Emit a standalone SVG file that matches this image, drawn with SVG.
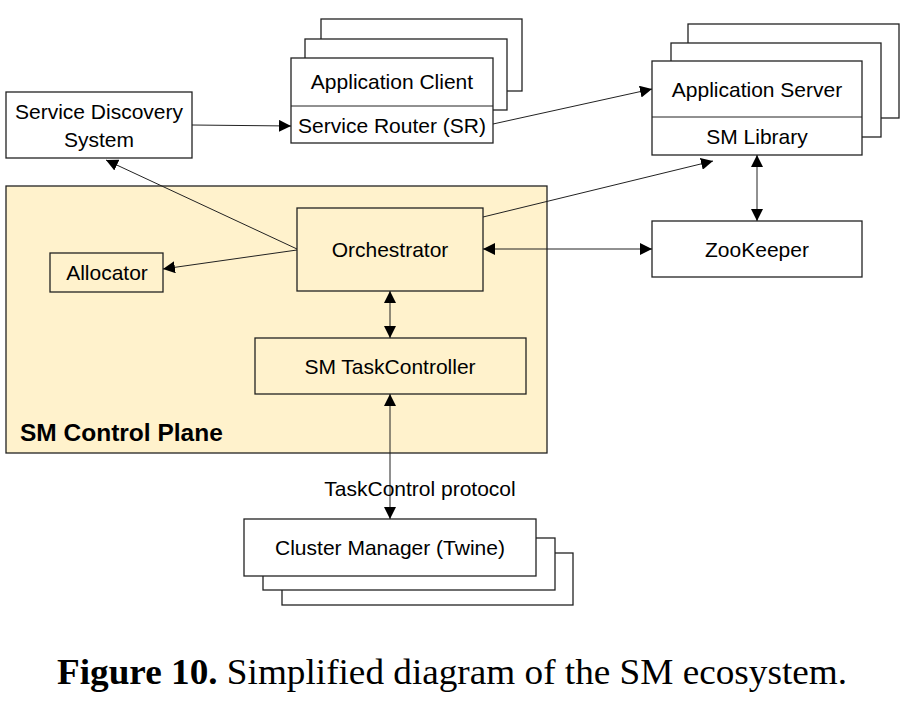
<svg xmlns="http://www.w3.org/2000/svg" width="904" height="707" viewBox="0 0 904 707">
<defs>
<marker id="ah" viewBox="0 0 12 12" refX="12" refY="6" markerWidth="12" markerHeight="12" markerUnits="userSpaceOnUse" orient="auto-start-reverse">
<path d="M0,0 L12,6 L0,12 Z" fill="#000"/>
</marker>
</defs>
<style>
.box{fill:#fff;stroke:#222;stroke-width:1.3}
.ybox{fill:#FFF2CC;stroke:#222;stroke-width:1.3}
.t{font-family:"Liberation Sans",Arial,sans-serif;font-size:21px;fill:#000;text-anchor:middle}
.c{stroke:#222;stroke-width:1;fill:none}
</style>
<rect width="904" height="707" fill="#fff"/>

<g id="control-plane">
<rect class="ybox" x="6" y="186" width="541" height="267"/>
<text x="20" y="441" font-family="'Liberation Sans',Arial,sans-serif" font-weight="bold" font-size="24.5" fill="#000">SM Control Plane</text>
</g>

<g id="application-client">
<rect class="box" x="321" y="19" width="201" height="72"/>
<rect class="box" x="305" y="39" width="202" height="71"/>
<rect class="box" x="291" y="58" width="202" height="85"/>
<line class="c" x1="291" y1="106" x2="493" y2="106" stroke-width="1.3"/>
<text class="t" x="392" y="89">Application Client</text>
<text class="t" x="392" y="133">Service Router (SR)</text>
</g>

<g id="application-server">
<rect class="box" x="688" y="24" width="211" height="94"/>
<rect class="box" x="671" y="43" width="210" height="94"/>
<rect class="box" x="652" y="61" width="210" height="94"/>
<line class="c" x1="652" y1="117" x2="862" y2="117" stroke-width="1.3"/>
<text class="t" x="757" y="97">Application Server</text>
<text class="t" x="757" y="144">SM Library</text>
</g>

<g id="service-discovery">
<rect class="box" x="6" y="92" width="186" height="66"/>
<text class="t" x="99" y="119">Service Discovery</text>
<text class="t" x="99" y="147">System</text>
</g>

<g id="allocator">
<rect class="ybox" x="50" y="253" width="113" height="39"/>
<text class="t" x="107" y="280">Allocator</text>
</g>

<g id="orchestrator">
<rect class="ybox" x="297" y="208" width="186" height="83"/>
<text class="t" x="390" y="257">Orchestrator</text>
</g>

<g id="taskcontroller">
<rect class="ybox" x="255" y="338" width="271" height="56"/>
<text class="t" x="390" y="374">SM TaskController</text>
</g>

<g id="zookeeper">
<rect class="box" x="652" y="221" width="210" height="56"/>
<text class="t" x="757" y="257">ZooKeeper</text>
</g>

<g id="cluster-manager">
<rect class="box" x="282" y="553" width="291" height="52"/>
<rect class="box" x="263" y="538" width="292" height="52"/>
<rect class="box" x="244" y="519" width="292" height="57"/>
<text class="t" x="390" y="555">Cluster Manager (Twine)</text>
</g>

<g id="connectors">
<line class="c" x1="192" y1="125" x2="291" y2="126" marker-end="url(#ah)"/>
<line class="c" x1="493" y1="124" x2="652" y2="89" marker-end="url(#ah)"/>
<line class="c" x1="297" y1="249" x2="106" y2="160" marker-end="url(#ah)"/>
<line class="c" x1="297" y1="250" x2="163" y2="269" marker-end="url(#ah)"/>
<line class="c" x1="483" y1="217" x2="713" y2="161" marker-end="url(#ah)"/>
<line class="c" x1="757" y1="155" x2="757" y2="221" marker-start="url(#ah)" marker-end="url(#ah)"/>
<line class="c" x1="483" y1="249" x2="652" y2="249" marker-start="url(#ah)" marker-end="url(#ah)"/>
<line class="c" x1="390" y1="291" x2="390" y2="338" marker-start="url(#ah)" marker-end="url(#ah)"/>
<line class="c" x1="390" y1="394" x2="390" y2="519" marker-start="url(#ah)" marker-end="url(#ah)"/>
<text class="t" x="420" y="496">TaskControl protocol</text>
</g>

<text x="452" y="684" text-anchor="middle" font-family="'Liberation Serif','Times New Roman',serif" font-size="36" fill="#000" textLength="790" lengthAdjust="spacingAndGlyphs"><tspan font-weight="bold">Figure 10.</tspan> Simplified diagram of the SM ecosystem.</text>
</svg>
